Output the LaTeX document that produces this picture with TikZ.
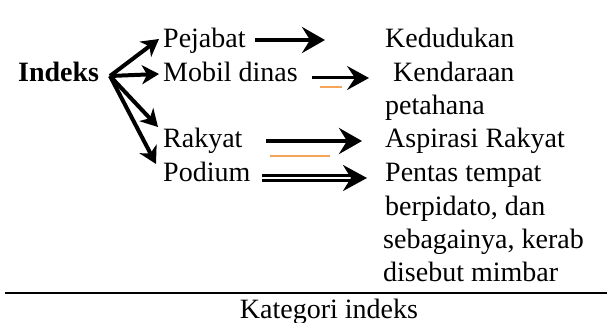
\documentclass[tikz,border=0pt]{standalone}
\usepackage{fontspec}
\setmainfont{Liberation Serif}
\usetikzlibrary{arrows.meta}
\definecolor{artorange}{RGB}{245,165,90}
\begin{document}
\begin{tikzpicture}[x=1pt,y=-1pt,
  txt/.style={anchor=base west,inner sep=0pt,font=\fontsize{28}{33}\selectfont},
  fanarr/.style={line width=4pt,-{Stealth[length=17pt,width=19pt,inset=5pt]}},
  arr/.style={line width=4.5pt,-{Stealth[length=23pt,width=26pt,inset=8pt]}},
  thinarr/.style={line width=3pt,-{Stealth[length=22pt,width=24pt,inset=8pt]}},
  dblarr/.style={line width=3pt,double,double distance=2.4pt,-{Stealth[length=24pt,width=26pt,inset=8pt]}},
  artline/.style={artorange,line width=1.8pt},
  rulel/.style={line width=2pt}]
\useasboundingbox (0,0) rectangle (607,323);

% left column
\node[txt,font=\fontsize{28}{33}\selectfont\bfseries] (indeks) at (18,82) {Indeks};
\node[txt] (pejabat) at (163,48) {Pejabat};
\node[txt] (mobil) at (163,82) {Mobil dinas};
\node[txt] (rakyat) at (163,148) {Rakyat};
\node[txt] (podium) at (163,182) {Podium};

% right column
\node[txt] (kedudukan) at (385,48) {Kedudukan};
\node[txt] (kendaraan) at (393,82) {Kendaraan};
\node[txt] (petahana) at (385,115) {petahana};
\node[txt] (aspirasi) at (385,148) {Aspirasi Rakyat};
\node[txt] (pentas1) at (385,182) {Pentas tempat};
\node[txt] (pentas2) at (385,215) {berpidato, dan};
\node[txt] (pentas3) at (383,248) {sebagainya, kerab};
\node[txt] (pentas4) at (383,281) {disebut mimbar};

% fan from Indeks
\coordinate (fan) at (110,76);
\coordinate (f1) at (159,39);
\coordinate (f2) at (159,74);
\coordinate (f3) at (158,127);
\coordinate (f4) at (156,164);
\draw[fanarr] (fan) -- (f1);
\draw[fanarr] (fan) -- (f2);
\draw[fanarr] (fan) -- (f3);
\draw[fanarr] (fan) -- (f4);

% middle arrows
\coordinate (p1) at (255,40);
\coordinate (p2) at (325,40);
\draw[arr] (p1) -- (p2);

\coordinate (m1) at (312,78);
\coordinate (m2) at (369,78);
\draw[thinarr] (m1) -- (m2);
\draw[artline] (320,87) -- (342,87);

\coordinate (r1) at (266,141);
\coordinate (r2) at (362,141);
\draw[arr] (r1) -- (r2);
\draw[artline] (270,156) -- (330,156);

\coordinate (d1) at (262,178);
\coordinate (d2) at (367,178);
\draw[dblarr] (d1) -- (d2);

% rule and caption
\coordinate (ruleA) at (5,293);
\coordinate (ruleB) at (607,293);
\draw[rulel] (ruleA) -- (ruleB);
\node[txt,anchor=base] (caption) at (329,318) {Kategori indeks};
\end{tikzpicture}
\end{document}
